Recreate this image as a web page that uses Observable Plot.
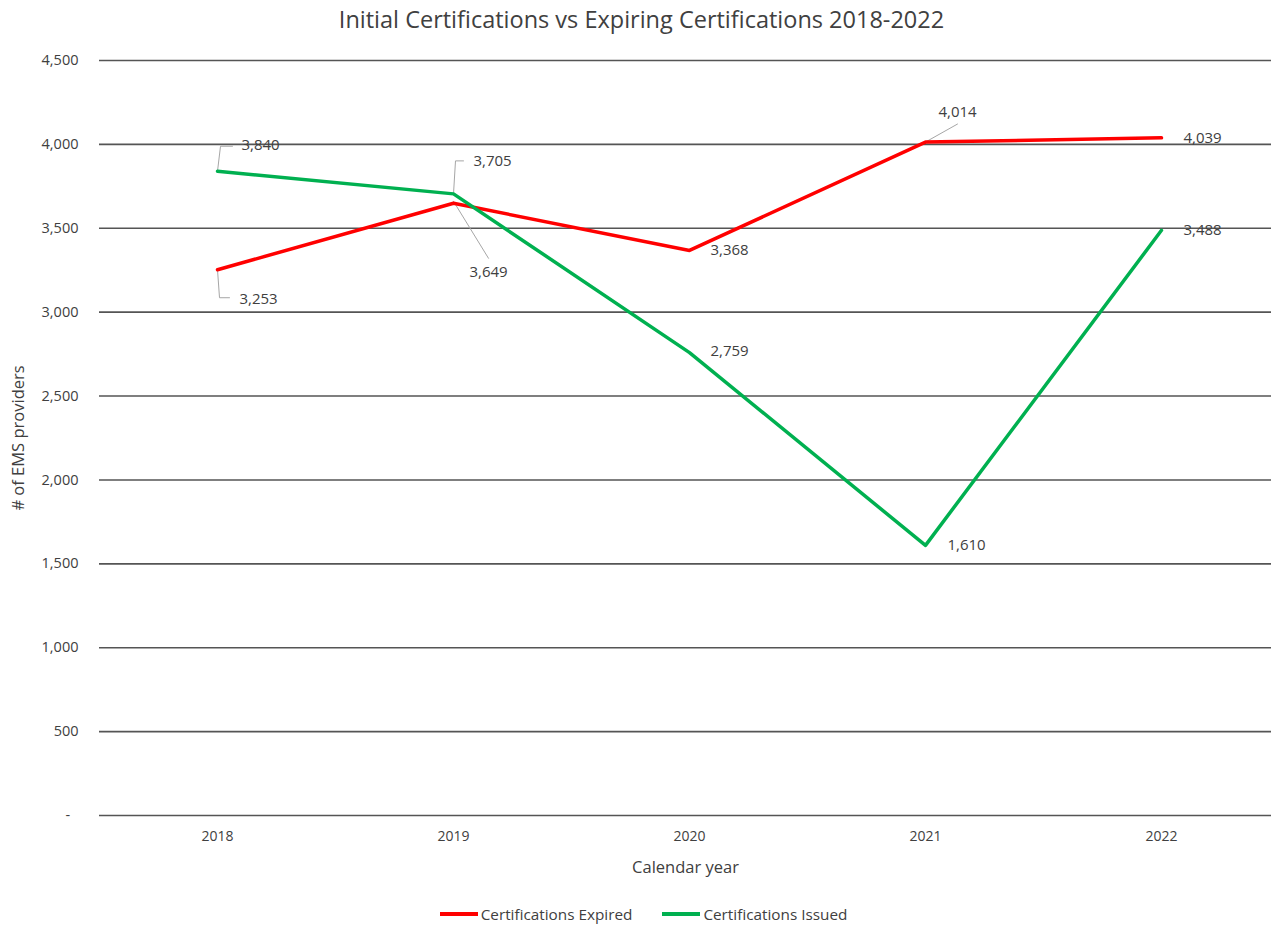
<!DOCTYPE html>
<html>
<head>
<meta charset="utf-8">
<script src="https://cdn.jsdelivr.net/npm/d3@7"></script>
<script src="https://cdn.jsdelivr.net/npm/@observablehq/plot@0.6"></script>
<style>
  html, body { margin: 0; padding: 0; background: #fff; overflow: hidden; }
  #wrap { position: relative; width: 1271px; height: 926px; font-family: "Open Sans", sans-serif; }
  #legend { position: absolute; top: 904px; left: 0; width: 1271px; display: flex; justify-content: center; gap: 30px; font-size: 15.3px; color: #404040; padding-left: 16px; box-sizing: border-box; }
  .item { display: flex; align-items: center; gap: 3px; }
  .sw { width: 38px; height: 4px; }
</style>
</head>
<body>
<div id="wrap"></div>
<script>
// ---- data ----
const years = [2018, 2019, 2020, 2021, 2022];
const expired = [3253, 3649, 3368, 4014, 4039];
const issued = [3840, 3705, 2759, 1610, 3488];
const yTicks = [0, 500, 1000, 1500, 2000, 2500, 3000, 3500, 4000, 4500];
const seriesNames = ["Certifications Expired", "Certifications Issued"];
const seriesColors = ["#ff0000", "#00b050"];

// ---- layout ----
const W = 1271, H = 926;
const xRange = [99, 1279];
const yRange = [815, 60];
const pxPerYear = (xRange[1] - xRange[0]) / 5;
const pxPerUnit = (yRange[0] - yRange[1]) / 4500;

const rows = [];
years.forEach((yr, i) => {
  rows.push({series: seriesNames[0], year: yr, value: expired[i]});
  rows.push({series: seriesNames[1], year: yr, value: issued[i]});
});

// label pixel offsets from each point (annotation placement)
const labelOffsets = {
  "Certifications Expired": [[22, 29], [16, 69], [21, 0], [13, -30], [22, 0]],
  "Certifications Issued": [[24, -26], [20, -33], [21, -1], [22, 0], [22, 0]]
};
// leader lines (pixel offsets polyline from point)
const leaderOffsets = [
  {series: "Certifications Expired", i: 0, pts: [[0, 0], [2, 28], [12, 28]]},
  {series: "Certifications Expired", i: 1, pts: [[0, -2], [35, 55]]},
  {series: "Certifications Expired", i: 3, pts: [[0, 0], [32, -18]]},
  {series: "Certifications Issued", i: 0, pts: [[0, 0], [3, -25], [15, -25]]},
  {series: "Certifications Issued", i: 1, pts: [[0, 0], [2, -33], [10, -33]]}
];
const leaderRows = [];
leaderOffsets.forEach((L, k) => {
  const vals = L.series === seriesNames[0] ? expired : issued;
  L.pts.forEach(([ox, oy]) => {
    leaderRows.push({id: k, x: years[L.i] + ox / pxPerYear, y: vals[L.i] - oy / pxPerUnit});
  });
});
const labelRows = rows.map(r => {
  const idx = years.indexOf(r.year);
  const [dx, dy] = labelOffsets[r.series][idx];
  return {...r, dx, dy};
});

const fmt = d3.format(",");
const chart = Plot.plot({
  width: W,
  height: H,
  marginLeft: 99,
  marginRight: 0,
  marginTop: 60,
  marginBottom: 111,
  style: {fontFamily: "Open Sans, sans-serif", color: "#404040", background: "#fff", overflow: "visible"},
  x: {type: "linear", domain: [2017.5, 2022.5], range: xRange},
  y: {domain: [0, 4500], range: yRange},
  color: {domain: seriesNames, range: seriesColors},
  marks: [
    Plot.ruleY(yTicks, {stroke: "#555555", strokeWidth: 1.6}),
    Plot.axisY({ticks: yTicks, tickSize: 0, tickPadding: 21, fontSize: 14.5, tickFormat: d => d === 0 ? "-\u2007" : fmt(d)}),
    Plot.axisX({ticks: years, tickSize: 0, tickPadding: 16, fontSize: 14, tickFormat: d => String(d), label: null}),
    Plot.line(leaderRows, {x: "x", y: "y", z: "id", stroke: "#a6a6a6", strokeWidth: 1}),
    ...seriesNames.map((s, k) => Plot.line(rows.filter(r => r.series === s), {x: "year", y: "value", stroke: seriesColors[k], strokeWidth: 3.5})),
    ...labelRows.map(r => Plot.text([r], {x: "year", y: "value", text: d => fmt(d.value), dx: r.dx, dy: r.dy, textAnchor: "start", fontSize: 15, fill: "#404040"})),
    Plot.text(["Initial Certifications vs Expiring Certifications 2018-2022"], {frameAnchor: "top", lineAnchor: "middle", textAnchor: "middle", dx: -44, dy: -40, fontSize: 23.5, fill: "#404040"}),
    Plot.text(["Calendar year"], {frameAnchor: "bottom", lineAnchor: "middle", textAnchor: "middle", dy: 52, fontSize: 16.5, fill: "#404040"}),
    Plot.text(["# of EMS providers"], {frameAnchor: "left", lineAnchor: "middle", textAnchor: "middle", dx: -81, rotate: -90, fontSize: 16.5, fill: "#404040"})
  ]
});
const wrap = document.getElementById("wrap");
wrap.appendChild(chart);
const legend = document.createElement("div");
legend.id = "legend";
seriesNames.forEach((s, k) => {
  const it = document.createElement("div");
  it.className = "item";
  it.innerHTML = `<span class="sw" style="background:${seriesColors[k]}"></span><span>${s}</span>`;
  legend.appendChild(it);
});
wrap.appendChild(legend);
</script>
</body>
</html>
